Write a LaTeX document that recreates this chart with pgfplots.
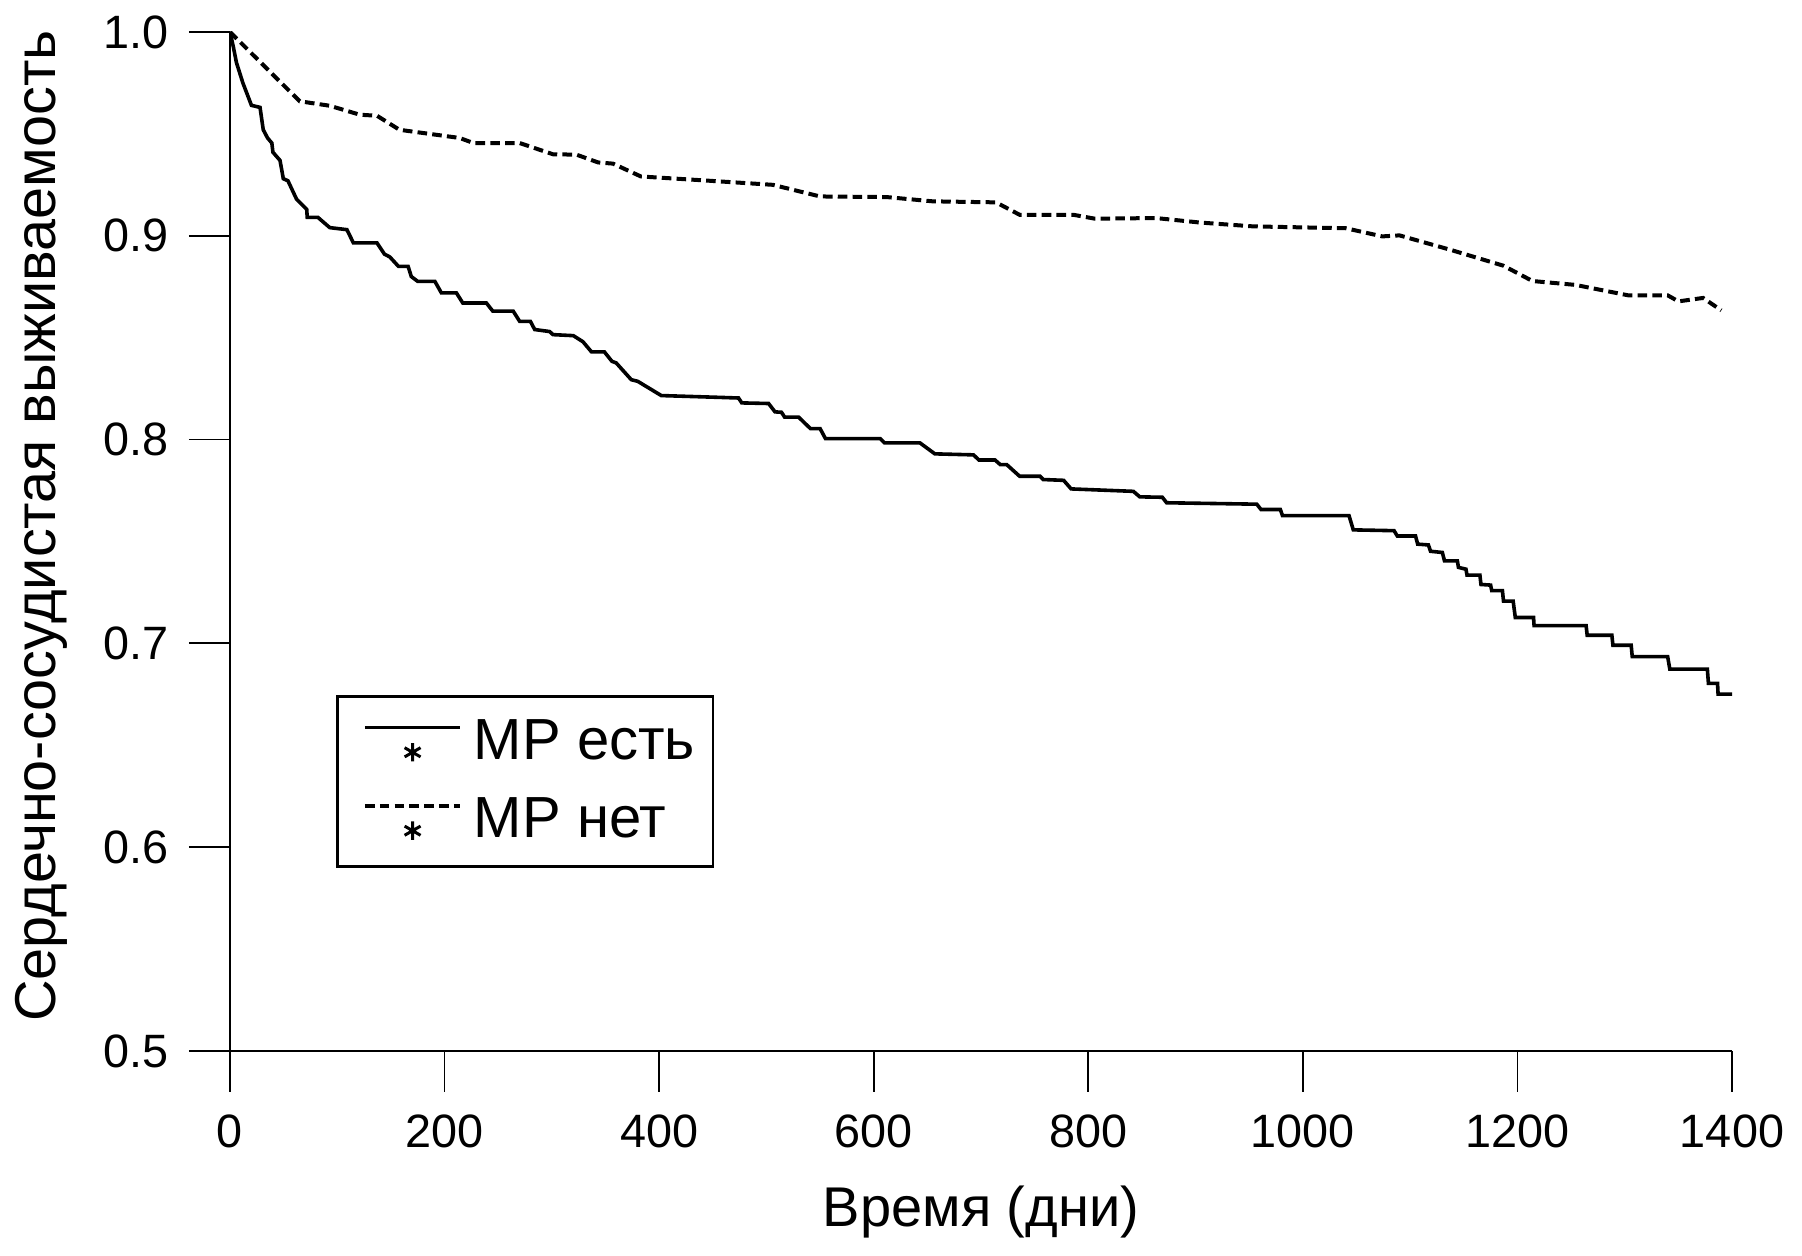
\documentclass[border=0pt]{standalone}
\usepackage{fontspec}
\setmainfont{Liberation Sans}
\usepackage{pgfplots}
\pgfplotsset{compat=1.18}
\begin{document}
\begin{tikzpicture}
\begin{axis}[
  scale only axis,
  width=375.5pt, height=254.75pt,
  xmin=0, xmax=1400, ymin=0.5, ymax=1.0,
  enlargelimits=false,
  axis lines*=left,
  axis line style={line width=0.45pt},
  tick align=outside,
  major tick length=10.25pt,
  every tick/.style={line width=0.45pt, black},
  xtick={0,200,...,1400},
  ytick={0.5,0.6,0.7,0.8,0.9,1.0},
  /pgf/number format/assume math mode=true,
  /pgf/number format/set thousands separator={},
  ticklabel style={font=\fontsize{11.7}{14}\selectfont},
  xticklabel style={yshift=-2.2pt},
  yticklabel style={xshift=-1.5pt, /pgf/number format/.cd, fixed, fixed zerofill, precision=1},
  xlabel={Время (дни)},
  ylabel={Сердечно-сосудистая выживаемость},
  xlabel style={font=\fontsize{14}{17}\selectfont, at={(axis description cs:0.5,-0.1727)}, anchor=base},
  ylabel style={font=\fontsize{14.4}{17}\selectfont, at={(axis description cs:-0.1165,0.515)}, anchor=base},
  legend cell align=left,
  legend style={at={(axis description cs:0.0706,0.349)}, anchor=north west,
    draw=black, line width=0.67pt, inner xsep=4.5pt, inner ysep=5.2pt,
    font=\fontsize{14.5}{17}\selectfont, row sep=7.2pt, column sep=3pt,
    nodes={inner sep=0pt, text height=10.4pt, text depth=2pt}},
  legend image code/.code={
    \path (-1.9pt,3.7pt);
    \draw[#1] (0pt,3.7pt) -- (23.75pt,3.7pt);
    \pgfinterruptboundingbox
    \draw[solid, line width=0.75pt] (11.9pt,-0.2pt) -- (11.9pt,-4.8pt)
      (9.91pt,-1.35pt) -- (13.89pt,-3.65pt)
      (9.91pt,-3.65pt) -- (13.89pt,-1.35pt);
    \endpgfinterruptboundingbox
  },
]
\addplot[black, line width=0.9pt] coordinates {
(0,1.000) (3,0.993) (6,0.985) (12,0.975) (20,0.964) (28,0.963) (31,0.952)
(35,0.948) (39,0.9455) (40,0.941) (46.6,0.937) (49.7,0.928) (54,0.927)
(62,0.918) (71.5,0.913) (72,0.909) (82,0.909) (93,0.904) (109,0.903)
(115,0.8965) (137,0.8965) (144,0.891) (149,0.8896) (157,0.885) (166,0.885)
(169,0.880) (175,0.8776) (191,0.8776) (197,0.872) (211,0.872) (217,0.867)
(239,0.867) (245,0.863) (264,0.863) (270,0.858) (280,0.858) (284,0.854)
(298,0.853) (301,0.8515) (320,0.851) (329,0.848) (337,0.843) (349,0.843)
(356,0.8384) (360,0.8376) (374,0.8294) (380,0.8286) (402,0.8216) (457,0.8207)
(474,0.8204) (477,0.818) (502,0.8177) (508,0.8136) (514,0.8134) (517,0.811)
(530,0.811) (541,0.8054) (550,0.8054) (555,0.8005) (606,0.8005) (610,0.7984)
(643,0.7984) (657,0.793) (693,0.7925) (698,0.790) (713,0.790) (718,0.7877)
(724,0.7877) (736,0.782) (755,0.782) (758,0.7804) (777,0.780) (784,0.7758)
(842,0.7746) (848,0.7719) (869,0.7717) (873,0.769) (957,0.7683) (961,0.7657)
(979,0.7657) (981,0.7627) (1043,0.7627) (1047,0.7557) (1085,0.7553)
(1088,0.7527) (1105,0.7527) (1107,0.7487) (1117,0.7483) (1119,0.7452)
(1130,0.7446) (1132,0.7405) (1144,0.7405) (1145,0.7373) (1152,0.7364)
(1153,0.7335) (1165,0.7335) (1166,0.7289) (1175,0.7286) (1176,0.7259)
(1186,0.7259) (1187,0.7207) (1196,0.7207) (1198,0.7127) (1215,0.7127)
(1215.5,0.7087) (1264,0.7087) (1265,0.704) (1288,0.704) (1289,0.6991)
(1306,0.6991) (1307,0.6935) (1340,0.6935) (1342,0.6874) (1377,0.6874)
(1378,0.6804) (1386.5,0.6804) (1387,0.6751) (1400,0.6751)
};
\addlegendentry{МР есть}
\addplot[black, line width=1pt, dash pattern=on 2.4pt off 1.3pt] coordinates {
(0,1.000) (65,0.966) (93,0.9638) (121,0.9594) (137,0.9589) (158,0.952)
(214,0.948) (227,0.9455) (270,0.9455) (301,0.940) (323,0.9398) (343,0.936)
(357,0.9354) (383,0.9291) (438,0.9273) (506,0.925) (550,0.9193) (612,0.919)
(655,0.9169) (714,0.9164) (736,0.9103) (786,0.9103) (806,0.9084) (863,0.9087)
(904,0.9065) (954,0.9046) (1040,0.9037) (1074,0.8997) (1090,0.9002)
(1137,0.8932) (1187,0.8853) (1214,0.8778) (1254,0.8759) (1303,0.8708)
(1340,0.8708) (1350,0.8678) (1373,0.8695) (1390,0.8634)
};
\addlegendentry{МР нет}
\end{axis}
\path ([shift={(-57.5pt,-51.25pt)}]current axis.south west) rectangle ([shift={(17.5pt,8pt)}]current axis.north east);
\end{tikzpicture}
\end{document}
